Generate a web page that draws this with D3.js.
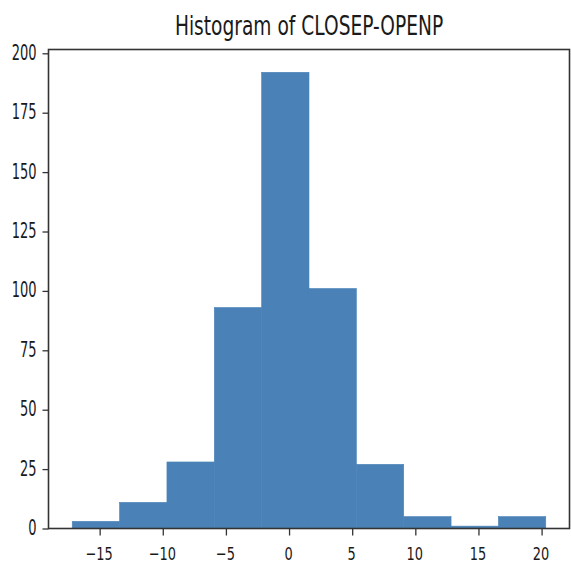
<!DOCTYPE html>
<html>
<head>
<meta charset="utf-8">
<script src="https://cdn.jsdelivr.net/npm/d3@7"></script>
<style>
  html, body { margin: 0; padding: 0; background: #fff; }
  svg { display: block; }
</style>
</head>
<body>
<div id="chart"></div>
<script>
// ---- data ----
const binEdges = [-17.17, -13.42, -9.67, -5.92, -2.17, 1.58, 5.33, 9.08, 12.83, 16.58, 20.33];
const counts   = [3, 11, 28, 93, 192, 101, 27, 5, 1, 5];
const xTicks   = [-15, -10, -5, 0, 5, 10, 15, 20];
const yTicks   = [0, 25, 50, 75, 100, 125, 150, 175, 200];
const titleText = "Histogram of CLOSEP-OPENP";

// ---- layout ----
const W = 571, H = 565;
const plot = { left: 48.5, right: 569.5, top: 49.5, bottom: 528.5 };
const xDomain = [-19.05, 22.21];
const yDomain = [0, 201.6];
const barColor = "#4a82b7";
const ink = "#1a1a1a";

const svg = d3.select("#chart").append("svg")
  .attr("width", W).attr("height", H);

const x = d3.scaleLinear().domain(xDomain).range([plot.left, plot.right]);
const y = d3.scaleLinear().domain(yDomain).range([plot.bottom, plot.top]);

const bins = counts.map((c, i) => ({ x0: binEdges[i], x1: binEdges[i + 1], n: c }));

svg.append("g").selectAll("rect").data(bins).join("rect")
  .attr("x", d => x(d.x0))
  .attr("width", d => x(d.x1) - x(d.x0))
  .attr("y", d => y(d.n))
  .attr("height", d => y(0) - y(d.n))
  .attr("fill", barColor)
  .attr("stroke", barColor)
  .attr("stroke-width", 0.6);

// frame
svg.append("rect")
  .attr("x", plot.left).attr("y", plot.top)
  .attr("width", plot.right - plot.left).attr("height", plot.bottom - plot.top)
  .attr("fill", "none").attr("stroke", "#333").attr("stroke-width", 1.6);

// axes
const fmt = d3.format("");
const yAxis = svg.append("g").attr("transform", `translate(${plot.left},0)`)
  .call(d3.axisLeft(y).tickValues(yTicks).tickSize(6).tickPadding(0).tickFormat(fmt));
yAxis.select(".domain").remove();
yAxis.selectAll(".tick line").attr("stroke", "#333").attr("stroke-width", 1.3);
yAxis.selectAll(".tick text")
  .attr("x", null).attr("dy", null)
  .attr("transform", "translate(-12,6) scale(0.62,1)")
  .attr("text-anchor", "end")
  .attr("fill", ink)
  .style("font-family", "DejaVu Sans")
  .style("font-size", "21px");

const xAxis = svg.append("g").attr("transform", `translate(0,${plot.bottom})`)
  .call(d3.axisBottom(x).tickValues(xTicks).tickSize(7).tickPadding(0).tickFormat(fmt));
xAxis.select(".domain").remove();
xAxis.selectAll(".tick line").attr("stroke", "#333").attr("stroke-width", 1.3);
xAxis.selectAll(".tick text")
  .attr("y", null).attr("dy", null)
  .attr("transform", "translate(-1,31.5) scale(0.70,1)")
  .attr("text-anchor", "middle")
  .attr("fill", ink)
  .style("font-family", "DejaVu Sans")
  .style("font-size", "18.5px");

// title
svg.append("text")
  .attr("transform", `translate(${(plot.left + plot.right) / 2},35) scale(0.69,1)`)
  .attr("text-anchor", "middle")
  .attr("fill", ink)
  .style("font-family", "DejaVu Sans")
  .style("font-size", "27px")
  .text(titleText);
</script>
</body>
</html>
